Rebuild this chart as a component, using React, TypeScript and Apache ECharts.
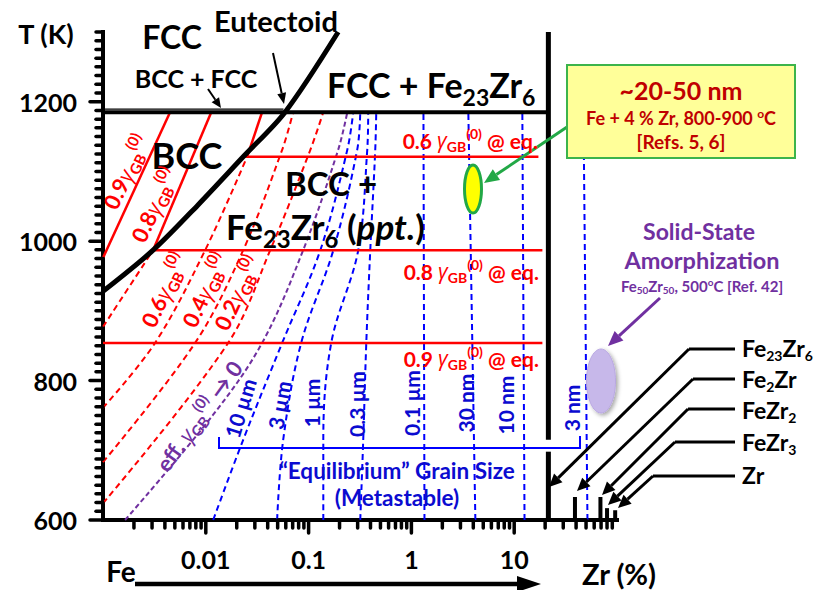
import React, { useEffect, useRef } from "react";
import * as echarts from "echarts";

// ---------------- axes ----------------
const xMin = 0.001;
const xMax = 100;
const tMin = 600;
const tMax = 1300;
const xMajor = [0.01, 0.1, 1, 10];
const xMajorLabels = ["0.01", "0.1", "1", "10"];
const xDecades = [0.001, 0.01, 0.1, 1, 10];
const xMultipliers = [2, 3, 4, 5, 6, 7, 8, 9];
const yMajor = [600, 800, 1000, 1200];
const yMinorStep = 12.5;

// ---------------- phase diagram (Zr %, T in K) ----------------
const eutectoidT = 1185;
const bccFccT = 1189.5;
const bccBoundary = [[0.001, 928], [0.00307, 987], [0.0084, 1052], [0.0231, 1121], [0.059, 1185], [0.194, 1300]];
const eutectoidLine = [[0.001, eutectoidT], [21.5, eutectoidT]];
const bccFccLine = [[0.001, bccFccT], [0.057, bccFccT]];
const fe23zr6Wall = 21.5;
const wallGap = [698, 715];
const compounds = [
  { name: "Fe2Zr", x: 39, top: 633 },
  { name: "FeZr2", x: 69, top: 633 },
  { name: "FeZr3", x: 80, top: 617 },
  { name: "Zr", x: 96, top: 614 },
];

// fraction of GB energy lines (red)
const g09Solid = [[0.001, 976], [0.00449, 1185]];
const g08Solid = [[0.00307, 987], [0.0113, 1185]];
const g08Dash = [[0.001, 877], [0.00307, 987]];
const g06Solid = [[0.0252, 1121], [0.0353, 1185]];
const g06Dash = [[0.001, 761], [0.00321, 854], [0.00985, 987], [0.0252, 1121]];
const g04Dash = [[0.001, 683], [0.00787, 854], [0.0231, 987], [0.0553, 1131], [0.0708, 1185]];
const g02Dash = [[0.001, 624], [0.0165, 854], [0.0423, 987], [0.104, 1131], [0.139, 1185]];
const effZero = [[0.00164, 600], [0.0118, 751], [0.0353, 854], [0.0885, 987], [0.194, 1131], [0.238, 1185]];

// equilibrium fractions (horizontal red lines)
const eq06 = [[0.0231, 1121], [17.2, 1121]];
const eq08 = [[0.00307, 987], [18.8, 987]];
const eq09 = [[0.001, 854], [18.8, 854]];

// grain size lines (blue)
const grain10um = [[0.0118, 600], [0.0231, 715], [0.0553, 854], [0.13, 987], [0.238, 1131], [0.272, 1185]];
const grain3um = [[0.0494, 600], [0.0566, 715], [0.0847, 854], [0.174, 987], [0.297, 1131], [0.318, 1185]];
const grain1um = [[0.139, 600], [0.139, 715], [0.166, 854], [0.304, 987], [0.372, 1131], [0.38, 1185]];
const grain03um = [[0.318, 600], [0.34, 715], [0.364, 854], [0.398, 987], [0.445, 1131], [0.455, 1185]];
const grain01um = [[1.34, 600], [1.31, 1185]];
const grain30nm = [[4.19, 600], [3.58, 1185]];
const grain10nm = [[12.6, 600], [12.0, 1185]];
const grain3nm = [[51.6, 600], [47.2, 1185]];

// ---------------- styling ----------------
const F = "Lato, 'Open Sans', 'DejaVu Sans', sans-serif";
const FG = "'Open Sans', 'DejaVu Sans', sans-serif";
const RED = "#ff0000";
const BLUE = "#0000ff";
const BLUE_T = "#0b0bd0";
const PURPLE = "#7030a0";
const DARKRED = "#c00000";
const GREEN = "#22a846";

const line = (data: number[][], color: string, width: number, dash: any = "solid", smooth: any = false, z = 3) => ({
  type: "line",
  data,
  symbol: "none",
  silent: true,
  smooth,
  clip: false,
  z,
  animation: false,
  lineStyle: { color, width, type: dash, cap: "butt", join: "round" },
  emphasis: { disabled: true },
});

const gRich = (color: string, size: number) => ({
  n: { fontSize: size, fontWeight: "bold", fontFamily: F, fill: color, lineHeight: Math.round(size * 1.3) },
  g: { fontSize: size, fontStyle: "italic", fontFamily: FG, fill: color, lineHeight: Math.round(size * 1.3) },
  s: { fontSize: Math.round(size * 0.68), fontFamily: F, fontWeight: "bold", fill: color, lineHeight: Math.round(size * 0.68), verticalAlign: "bottom" },
  p: { fontSize: Math.round(size * 0.68), fontFamily: F, fontWeight: "bold", fill: color, lineHeight: Math.round(size * 0.68), verticalAlign: "top" },
});

const subRich = (color: string, size: number, lh = 1.4, sr = 0.68) => ({
  n: { fontSize: size, fontWeight: "bold", fontFamily: F, fill: color, lineHeight: Math.round(size * lh) },
  s: { fontSize: Math.round(size * sr), fontWeight: "bold", fontFamily: F, fill: color, lineHeight: Math.round(size * sr), verticalAlign: "bottom" },
  p: { fontSize: Math.round(size * 0.65), fontWeight: "bold", fontFamily: F, fill: color, lineHeight: Math.round(size * 0.65), verticalAlign: "top" },
  i: { fontSize: size, fontWeight: "bold", fontStyle: "italic", fontFamily: F, fill: color, lineHeight: Math.round(size * lh) },
});

const txt = (x: number, y: number, text: string, size: number, color = "#000", align = "center", rot = 0, rich: any = null) => ({
  type: "text",
  x,
  y,
  rotation: (rot * Math.PI) / 180,
  z: 100,
  silent: true,
  style: {
    text,
    fill: color,
    fontSize: size,
    fontWeight: "bold",
    fontFamily: F,
    align,
    textAlign: align,
    verticalAlign: "middle",
    textVerticalAlign: "middle",
    rich: rich || undefined,
  },
});

const arrow = (x1: number, y1: number, x2: number, y2: number, color: string, lw: number, hl: number, hw: number) => {
  const a = Math.atan2(y2 - y1, x2 - x1);
  const bx = x2 - hl * Math.cos(a);
  const by = y2 - hl * Math.sin(a);
  const px = -Math.sin(a) * hw;
  const py = Math.cos(a) * hw;
  return [
    { type: "line", z: 90, silent: true, shape: { x1, y1, x2: bx, y2: by }, style: { stroke: color, lineWidth: lw } },
    { type: "polygon", z: 90, silent: true, shape: { points: [[x2, y2], [bx + px, by + py], [bx - px, by - py]] }, style: { fill: color } },
  ];
};

const leader = (lx: number, ly: number, bx: number, tx: number, ty: number) => [
  { type: "line", z: 90, silent: true, shape: { x1: lx, y1: ly, x2: bx, y2: ly }, style: { stroke: "#000", lineWidth: 3 } },
  ...arrow(bx, ly, tx, ty, "#000", 3, 13, 6),
];

function buildOption() {
  const xMinor = xDecades.flatMap((d) => xMultipliers.map((m) => +(m * d).toPrecision(3)));
  const xTicks = [...xMinor.map((v) => [v, tMin, 8]), ...xMajor.map((v) => [v, tMin, 13])];
  const yTicks: number[][] = [];
  for (let v = tMin; v <= tMax + 0.01; v += yMinorStep) {
    yTicks.push([xMin, v, yMajor.includes(v) ? 13 : 7]);
  }

  const series: any[] = [
    ...[grain10um, grain3um, grain1um, grain03um].map((d) => line(d, BLUE, 2, [6, 4], 0.35, 2)),
    ...[grain01um, grain30nm, grain10nm, grain3nm].map((d) => line(d, BLUE, 2, [6, 4], false, 2)),
    ...[g08Dash, g06Dash, g04Dash, g02Dash].map((d) => line(d, RED, 2, [6, 4], 0.35, 3)),
    line(effZero, PURPLE, 2, [5, 3], 0.35, 3),
    ...[g09Solid, g08Solid, g06Solid].map((d) => line(d, RED, 2.5, "solid", false, 4)),
    ...[eq06, eq08, eq09].map((d) => line(d, RED, 2.5, "solid", false, 4)),
    line(bccBoundary, "#000", 5, "solid", 0.3, 6),
    line(eutectoidLine, "#000", 4, "solid", false, 6),
    line(bccFccLine, "#000", 1.2, "solid", false, 6),
    line([[fe23zr6Wall, tMin], [fe23zr6Wall, wallGap[0]]], "#000", 5, "solid", false, 6),
    line([[fe23zr6Wall, wallGap[1]], [fe23zr6Wall, tMax]], "#000", 5, "solid", false, 6),
    ...compounds.map((c) => line([[c.x, tMin], [c.x, c.top]], "#000", 4, "solid", false, 6)),
    {
      type: "custom",
      coordinateSystem: "cartesian2d",
      clip: false,
      silent: true,
      z: 7,
      data: xTicks,
      encode: { x: 0, y: 1 },
      renderItem: (_p: any, api: any) => {
        const p = api.coord([api.value(0), api.value(1)]);
        const len = api.value(2);
        return { type: "line", shape: { x1: p[0], y1: p[1], x2: p[0], y2: p[1] + len }, style: { stroke: "#000", lineWidth: 3.5, lineCap: "round" } };
      },
    },
    {
      type: "custom",
      coordinateSystem: "cartesian2d",
      clip: false,
      silent: true,
      z: 7,
      data: yTicks,
      encode: { x: 0, y: 1 },
      renderItem: (_p: any, api: any) => {
        const p = api.coord([api.value(0), api.value(1)]);
        const len = api.value(2);
        return { type: "line", shape: { x1: p[0] - len, y1: p[1], x2: p[0], y2: p[1] }, style: { stroke: "#000", lineWidth: 3.5, lineCap: "round" } };
      },
    },
  ];

  const rr = gRich(RED, 21);
  const rb = gRich(RED, 22);
  const rp = gRich(PURPLE, 22);
  const cr = subRich("#000", 23, 1.2, 0.6);

  const graphic: any[] = [
    txt(46, 33, "T (K)", 27),
    txt(121, 571, "Fe", 28),
    txt(619, 573, "Zr (%)", 29),
    ...arrow(135, 584, 541, 584, "#000", 4.5, 24, 8),

    txt(172, 36, "FCC", 32),
    txt(276, 20, "Eutectoid", 29),
    ...arrow(273, 53, 284, 104, "#000", 2, 11, 4.5),
    txt(196, 78, "BCC + FCC", 25),
    ...arrow(208, 89, 221, 108, "#000", 2, 10, 4.5),
    txt(327, 84, "{n|FCC + Fe}{s|23}{n|Zr}{s|6}", 34, "#000", "left", 0, subRich("#000", 34)),
    txt(187, 155, "BCC", 36),
    txt(285, 183, "BCC +", 33, "#000", "left"),
    txt(226, 226, "{n|Fe}{s|23}{n|Zr}{s|6}{n| (}{i|ppt.}{n|)}", 35, "#000", "left", 0, subRich("#000", 35)),

    txt(538, 140, "{n|0.6 }{g|γ}{s|GB}{p|(0)}{n| @ eq.}", 21, RED, "right", 0, rr),
    txt(539, 271, "{n|0.8 }{g|γ}{s|GB}{p|(0)}{n| @ eq.}", 21, RED, "right", 0, rr),
    txt(539, 358, "{n|0.9 }{g|γ}{s|GB}{p|(0)}{n| @ eq.}", 21, RED, "right", 0, rr),

    txt(126, 172, "{n|0.9}{g|γ}{s|GB}{p|(0)}", 22, RED, "center", 65, rb),
    txt(154, 205, "{n|0.8}{g|γ}{s|GB}{p|(0)}", 22, RED, "center", 65, rb),
    txt(164, 290, "{n|0.6}{g|γ}{s|GB}{p|(0)}", 22, RED, "center", 65, rb),
    txt(205, 290, "{n|0.4}{g|γ}{s|GB}{p|(0)}", 22, RED, "center", 65, rb),
    txt(237, 293, "{n|0.2}{g|γ}{s|GB}{p|(0)}", 22, RED, "center", 65, rb),
    txt(199, 416, "{n|eff. }{g|γ}{s|GB}{p|(0)}{n| → 0}", 22, PURPLE, "center", 54, rp),

    txt(240, 408, "10 µm", 21, BLUE_T, "center", 73),
    txt(279, 405, "3 µm", 21, BLUE_T, "center", 80),
    txt(311, 403, "1 µm", 21, BLUE_T, "center", 90),
    txt(356, 404, "0.3 µm", 21, BLUE_T, "center", 90),
    txt(411, 403, "0.1 µm", 21, BLUE_T, "center", 90),
    txt(465, 403, "30 nm", 21, BLUE_T, "center", 90),
    txt(505, 405, "10 nm", 21, BLUE_T, "center", 90),
    txt(571, 408, "3 nm", 21, BLUE_T, "center", 90),
    {
      type: "polyline",
      z: 80,
      silent: true,
      shape: { points: [[219, 437], [219, 448], [580, 448], [580, 436]] },
      style: { stroke: BLUE, lineWidth: 2, fill: null },
    },
    txt(397, 470, "“Equilibrium” Grain Size", 22.5, BLUE_T),
    txt(397, 497, "(Metastable)", 22.5, BLUE_T),

    ...arrow(567, 127, 484, 183, GREEN, 3, 15, 6.5),
    { type: "ellipse", z: 85, silent: true, shape: { cx: 473, cy: 189, rx: 8.5, ry: 24 }, style: { fill: "#ffff00", stroke: GREEN, lineWidth: 3 } },
    { type: "rect", z: 95, silent: true, shape: { x: 567, y: 65, width: 228, height: 93 }, style: { fill: "#ffff99", stroke: "#3cb44b", lineWidth: 2 } },
    txt(681, 90, "~20-50 nm", 25, DARKRED),
    txt(681, 118, "{a|Fe + 4 % Zr, 800-900 }{p|o}{a|C}", 18, DARKRED, "center", 0, {
      a: { fontSize: 18, fontWeight: "bold", fontFamily: F, fill: DARKRED, lineHeight: 22 },
      p: { fontSize: 12, fontWeight: "bold", fontFamily: F, fill: DARKRED, lineHeight: 12, verticalAlign: "top" },
    }),
    txt(681, 141, "[Refs. 5, 6]", 19, DARKRED),

    txt(699, 231, "Solid-State", 23, PURPLE),
    txt(702, 260, "Amorphization", 23.5, PURPLE),
    txt(702, 286, "{a|Fe}{s|50}{a|Zr}{s|50}{a|, 500}{p|o}{a|C [Ref. 42]}", 15, PURPLE, "center", 0, {
      a: { fontSize: 15, fontWeight: "bold", fontFamily: F, fill: PURPLE, lineHeight: 18 },
      s: { fontSize: 10, fontWeight: "bold", fontFamily: F, fill: PURPLE, lineHeight: 10, verticalAlign: "bottom" },
      p: { fontSize: 10, fontWeight: "bold", fontFamily: F, fill: PURPLE, lineHeight: 10, verticalAlign: "top" },
    }),
    ...arrow(660, 298, 608, 346, PURPLE, 3, 15, 6.5),
    {
      type: "ellipse",
      z: 85,
      silent: true,
      shape: { cx: 601, cy: 381, rx: 14.5, ry: 32 },
      style: { fill: "#c7b8ea", stroke: "#b9a8e2", lineWidth: 1, shadowBlur: 4, shadowColor: "rgba(0,0,0,0.35)", shadowOffsetX: 2, shadowOffsetY: 2 },
    },

    txt(742, 348, "{n|Fe}{s|23}{n|Zr}{s|6}", 23, "#000", "left", 0, cr),
    txt(742, 379, "{n|Fe}{s|2}{n|Zr}", 23, "#000", "left", 0, cr),
    txt(742, 410, "{n|FeZr}{s|2}", 23, "#000", "left", 0, cr),
    txt(742, 442, "{n|FeZr}{s|3}", 23, "#000", "left", 0, cr),
    txt(742, 475, "Zr", 23, "#000", "left"),
    ...leader(735, 349, 689, 549, 487),
    ...leader(735, 379, 693, 577, 491),
    ...leader(735, 409, 688, 602, 495),
    ...leader(735, 442, 675, 608, 505),
    ...leader(735, 476, 653, 618, 508),
  ];

  return {
    animation: false,
    backgroundColor: "#ffffff",
    textStyle: { fontFamily: F },
    grid: { left: 103, right: 210, top: 32, bottom: 70, containLabel: false },
    xAxis: {
      type: "log",
      logBase: 10,
      min: xMin,
      max: xMax,
      axisLine: { show: true, lineStyle: { color: "#000", width: 4, cap: "square" } },
      axisTick: { show: false },
      splitLine: { show: false },
      minorTick: { show: false },
      axisLabel: {
        margin: 26,
        color: "#000",
        fontSize: 25,
        fontWeight: "bold",
        fontFamily: F,
        formatter: (v: number) => {
          const i = xMajor.findIndex((m) => Math.abs(Math.log10(v) - Math.log10(m)) < 1e-6);
          return i >= 0 ? xMajorLabels[i] : "";
        },
      },
    },
    yAxis: {
      type: "value",
      min: tMin,
      max: tMax,
      interval: 100,
      axisLine: { show: true, lineStyle: { color: "#000", width: 4, cap: "square" } },
      axisTick: { show: false },
      splitLine: { show: false },
      axisLabel: {
        margin: 26,
        color: "#000",
        fontSize: 25,
        fontWeight: "bold",
        fontFamily: F,
        formatter: (v: number) => (yMajor.includes(v) ? String(v) : ""),
      },
    },
    series,
    graphic,
  };
}

export default function App() {
  const ref = useRef<HTMLDivElement>(null);
  useEffect(() => {
    const el = ref.current!;
    const chart = echarts.init(el, undefined, { renderer: "svg", width: 827, height: 590 });
    chart.setOption(buildOption() as any);
    return () => chart.dispose();
  }, []);
  return <div ref={ref} style={{ position: "fixed", left: 0, top: 0, width: 827, height: 590, background: "#fff" }} />;
}
